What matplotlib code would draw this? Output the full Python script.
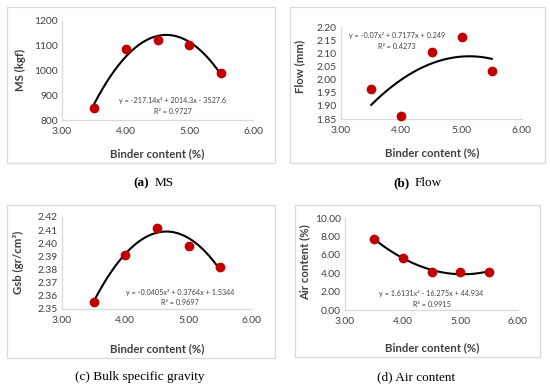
import numpy as np
import matplotlib
matplotlib.use("Agg")
import matplotlib.pyplot as plt
from matplotlib.patches import Rectangle
from matplotlib.ticker import FormatStrFormatter

plt.rcParams['font.family'] = ['Lato', 'DejaVu Sans']

# ---- data ----
binder = [3.5, 4.0, 4.5, 5.0, 5.5]
ms_vals = [848, 1085, 1124, 1102, 988]
flow_vals = [1.963, 1.862, 2.104, 2.161, 2.033]
gsb_vals = [2.355, 2.391, 2.412, 2.398, 2.382]
air_vals = [7.75, 5.70, 4.15, 4.10, 4.15]

# trendline coefficients (as printed on the chart)
ms_coef = [-217.14, 2014.3, -3527.6]
flow_coef = [-0.07, 0.7177, 0.249]
gsb_coef = [-0.0405, 0.3764, 1.5344]
air_coef = [1.6131, -16.275, 44.934]

ms_eq = ["y = -217.14x² + 2014.3x - 3527.6", "R² = 0.9727"]
flow_eq = ["y = -0.07x² + 0.7177x + 0.249", "R² = 0.4273"]
gsb_eq = ["y = -0.0405x² + 0.3764x + 1.5344", "R² = 0.9697"]
air_eq = ["y = 1.6131x² - 16.275x + 44.934", "R² = 0.9915"]

W, H = 550, 389
fig = plt.figure(figsize=(W / 100, H / 100), dpi=100)


def rect(x0, x1, ytop, ybot):
    return [x0 / W, 1 - ybot / H, (x1 - x0) / W, (ybot - ytop) / H]


def border(x0, x1, ytop, ybot):
    fig.patches.append(Rectangle((x0 / W, 1 - ybot / H), (x1 - x0) / W, (ybot - ytop) / H,
                                 transform=fig.transFigure, fill=False,
                                 edgecolor='#D9D9D9', lw=0.9))


AX_COL = '#D9D9D9'
TXT_COL = '#404040'
RED = '#C00000'


def panel(r, yvals, coef, ylim, yticks, yfmt, eq, eqpos, ylabel, ylabpos, xlabpos):
    ax = fig.add_axes(r)
    ax.set_xlim(3, 6)
    ax.set_ylim(*ylim)
    ax.set_xticks([3, 4, 5, 6])
    ax.set_yticks(yticks)
    ax.xaxis.set_major_formatter(FormatStrFormatter('%.2f'))
    ax.yaxis.set_major_formatter(FormatStrFormatter(yfmt))
    for s in ['top', 'right']:
        ax.spines[s].set_visible(False)
    for s in ['left', 'bottom']:
        ax.spines[s].set_color(AX_COL)
        ax.spines[s].set_linewidth(0.9)
    ax.tick_params(length=0, labelsize=7.4, labelcolor=TXT_COL, pad=3)
    ax.tick_params(axis='x', pad=5)
    xs = np.linspace(3.5, 5.5, 200)
    ax.plot(xs, np.polyval(coef, xs), color='black', lw=1.5, zorder=2)
    ax.plot(binder, yvals, 'o', color=RED, ms=6, zorder=3, clip_on=False)
    ax.text(eqpos[0], eqpos[1], eq[0], transform=ax.transAxes, fontsize=5.2,
            color=TXT_COL, ha='center', va='center')
    ax.text(eqpos[2], eqpos[3], eq[1], transform=ax.transAxes, fontsize=5.2,
            color=TXT_COL, ha='center', va='center')
    fig.text(ylabpos[0] / W, 1 - ylabpos[1] / H, ylabel, rotation=90, fontsize=8.2,
             fontweight='bold', color=TXT_COL, ha='center', va='center')
    fig.text(xlabpos[0] / W, 1 - xlabpos[1] / H, 'Binder content (%)', fontsize=8.2,
             fontweight='bold', color=TXT_COL, ha='center', va='center')
    return ax


# (a) MS
border(7, 275, 7, 163)
panel(rect(62, 253, 21, 120), ms_vals, ms_coef, (800, 1200), [800, 900, 1000, 1100, 1200], '%d',
      ms_eq, (0.58, 0.20, 0.58, 0.09), 'MS (kgf)', (20, 70), (157, 154))

# (b) Flow
border(290, 545, 7, 163)
panel(rect(341, 522, 27, 119), flow_vals, flow_coef, (1.85, 2.20),
      [1.85, 1.90, 1.95, 2.00, 2.05, 2.10, 2.15, 2.20], '%.2f',
      flow_eq, (0.31, 0.91, 0.31, 0.79), 'Flow (mm)', (300, 66), (432, 153))

# (c) Gsb
border(7, 275, 205, 358)
panel(rect(62, 252, 217, 309), gsb_vals, gsb_coef, (2.35, 2.42),
      [2.35, 2.36, 2.37, 2.38, 2.39, 2.40, 2.41, 2.42], '%.2f',
      gsb_eq, (0.62, 0.18, 0.62, 0.07), 'Gsb (gr/cm³)', (18, 262), (157, 349))

# (d) Air content
border(295, 540, 205, 357)
panel(rect(345, 518, 218, 310), air_vals, air_coef, (0, 10), [0, 2, 4, 6, 8, 10], '%.2f',
      air_eq, (0.50, 0.18, 0.50, 0.06), 'Air content (%)', (305, 262), (432, 348))

# captions
SERIF = ['Liberation Serif', 'DejaVu Serif']
FS = 9.5
fig.text(149 / W, 1 - 183 / H, '(a)', family=SERIF, fontweight='bold', fontsize=FS,
         ha='right', va='center', color='black')
fig.text(155 / W, 1 - 183 / H, 'MS', family=SERIF, fontsize=FS, ha='left', va='center')
fig.text(410 / W, 1 - 183 / H, '(b)', family=SERIF, fontweight='bold', fontsize=FS,
         ha='right', va='center')
fig.text(415 / W, 1 - 183 / H, 'Flow', family=SERIF, fontsize=FS, ha='left', va='center')
fig.text(140 / W, 1 - 377 / H, '(c) Bulk specific gravity', family=SERIF, fontsize=FS,
         ha='center', va='center')
fig.text(416 / W, 1 - 377 / H, '(d) Air content', family=SERIF, fontsize=FS,
         ha='center', va='center')

fig.savefig('out.png', dpi=100, facecolor='white')
